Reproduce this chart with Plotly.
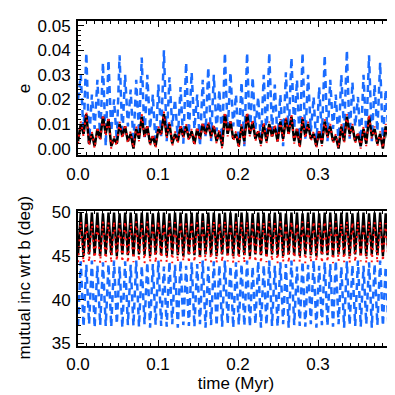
import numpy as np
import plotly.graph_objects as go
from plotly.subplots import make_subplots

# ---- data (alternating troughs / peaks of each oscillation cycle) ----
N_CYC = 57
T_END = 0.395  # Myr

# eccentricity, blue planet
e_blue_peaks = [0.030, 0.039, 0.022, 0.028, 0.035, 0.036, 0.020, 0.038, 0.030, 0.024,
                0.028, 0.037, 0.030, 0.022, 0.026, 0.040, 0.029, 0.020, 0.025, 0.035,
                0.031, 0.022, 0.028, 0.033, 0.030, 0.024, 0.039, 0.031, 0.022, 0.027,
                0.039, 0.029, 0.021, 0.030, 0.039, 0.026, 0.022, 0.031, 0.037, 0.028,
                0.039, 0.030, 0.021, 0.025, 0.038, 0.028, 0.022, 0.030, 0.040, 0.027,
                0.021, 0.030, 0.038, 0.026, 0.035, 0.024, 0.030]
e_blue_troughs = [0.020, 0.006, 0.002, 0.008, 0.004, 0.001, 0.007, 0.003, 0.005, 0.009,
                  0.002, 0.006, 0.004, 0.008, 0.001, 0.005, 0.003, 0.009, 0.004, 0.002,
                  0.006, 0.008, 0.001, 0.005, 0.003, 0.007, 0.002, 0.006, 0.009, 0.003,
                  0.001, 0.005, 0.008, 0.002, 0.004, 0.007, 0.003, 0.001, 0.006, 0.008,
                  0.002, 0.004, 0.007, 0.001, 0.005, 0.003, 0.008, 0.002, 0.006, 0.004,
                  0.009, 0.001, 0.005, 0.003, 0.007, 0.002, 0.006, 0.012]

# eccentricity, black planet
e_black_peaks = [0.010, 0.014, 0.006, 0.008, 0.013, 0.012, 0.004, 0.010, 0.009, 0.006,
                 0.008, 0.013, 0.009, 0.005, 0.008, 0.014, 0.010, 0.006, 0.009, 0.009,
                 0.007, 0.008, 0.010, 0.010, 0.009, 0.007, 0.014, 0.011, 0.006, 0.009,
                 0.014, 0.011, 0.007, 0.010, 0.010, 0.009, 0.011, 0.012, 0.013, 0.008,
                 0.012, 0.010, 0.006, 0.007, 0.011, 0.009, 0.005, 0.009, 0.013, 0.009,
                 0.006, 0.008, 0.013, 0.008, 0.006, 0.009, 0.011]
e_black_troughs = [0.003, 0.006, 0.002, 0.001, 0.004, 0.006, 0.001, 0.002, 0.005, 0.003,
                   0.000, 0.004, 0.005, 0.002, 0.001, 0.006, 0.005, 0.002, 0.003, 0.005,
                   0.004, 0.002, 0.004, 0.006, 0.005, 0.003, 0.001, 0.006, 0.004, 0.001,
                   0.003, 0.006, 0.004, 0.002, 0.003, 0.005, 0.003, 0.004, 0.006, 0.003,
                   0.001, 0.005, 0.004, 0.001, 0.002, 0.005, 0.003, 0.000, 0.003, 0.006,
                   0.003, 0.001, 0.002, 0.005, 0.002, 0.000, 0.004, 0.005]

# eccentricity, red planet
e_red_peaks = [0.011, 0.015, 0.007, 0.009, 0.014, 0.013, 0.005, 0.011, 0.010, 0.007,
               0.009, 0.014, 0.010, 0.006, 0.009, 0.015, 0.011, 0.007, 0.010, 0.010,
               0.008, 0.009, 0.011, 0.011, 0.010, 0.008, 0.015, 0.012, 0.007, 0.010,
               0.015, 0.012, 0.008, 0.011, 0.011, 0.010, 0.012, 0.013, 0.014, 0.009,
               0.013, 0.011, 0.007, 0.008, 0.012, 0.010, 0.006, 0.010, 0.014, 0.010,
               0.007, 0.009, 0.014, 0.009, 0.007, 0.010, 0.012]
e_red_troughs = [0.002, 0.005, 0.001, 0.000, 0.003, 0.005, 0.000, 0.001, 0.004, 0.002,
                 0.000, 0.003, 0.004, 0.001, 0.000, 0.005, 0.004, 0.001, 0.002, 0.004,
                 0.003, 0.001, 0.003, 0.005, 0.004, 0.002, 0.000, 0.005, 0.003, 0.000,
                 0.002, 0.005, 0.003, 0.001, 0.002, 0.004, 0.002, 0.003, 0.005, 0.002,
                 0.000, 0.004, 0.003, 0.000, 0.001, 0.004, 0.002, 0.000, 0.002, 0.005,
                 0.002, 0.000, 0.001, 0.004, 0.001, 0.000, 0.003, 0.004]

# mutual inclination wrt b (deg)
i_black_peaks = [50.0, 49.9, 50.0, 50.0, 49.9, 50.0, 50.0, 49.9, 50.0, 50.0,
                 49.9, 50.0, 50.0, 49.9, 50.0, 50.0, 49.9, 50.0, 50.0, 49.9,
                 50.0, 50.0, 49.9, 50.0, 50.0, 49.9, 50.0, 50.0, 49.9, 50.0,
                 50.0, 49.9, 50.0, 50.0, 49.9, 50.0, 50.0, 49.9, 50.0, 50.0,
                 49.9, 50.0, 50.0, 49.9, 50.0, 50.0, 49.9, 50.0, 50.0, 49.9,
                 50.0, 50.0, 49.9, 50.0, 50.0, 49.9, 50.0]
i_black_troughs = [45.1, 45.0, 45.2, 45.1, 45.0, 45.2, 45.1, 45.0, 45.2, 45.1,
                   45.0, 45.2, 45.1, 45.0, 45.2, 45.1, 45.0, 45.2, 45.1, 45.0,
                   45.2, 45.1, 45.0, 45.2, 45.1, 45.0, 45.2, 45.1, 45.0, 45.2,
                   45.1, 45.0, 45.2, 45.1, 45.0, 45.2, 45.1, 45.0, 45.2, 45.1,
                   45.0, 45.2, 45.1, 45.0, 45.2, 45.1, 45.0, 45.2, 45.1, 45.0,
                   45.2, 45.1, 45.0, 45.2, 45.1, 45.0, 45.2, 45.1]
i_red_peaks = [49.0, 48.9, 49.0, 48.8, 49.0, 48.9, 49.0, 48.8, 49.0, 48.9,
               49.0, 48.8, 49.0, 48.9, 49.0, 48.8, 49.0, 48.9, 49.0, 48.8,
               49.0, 48.9, 49.0, 48.8, 49.0, 48.9, 49.0, 48.8, 49.0, 48.9,
               49.0, 48.8, 49.0, 48.9, 49.0, 48.8, 49.0, 48.9, 49.0, 48.8,
               49.0, 48.9, 49.0, 48.8, 49.0, 48.9, 49.0, 48.8, 49.0, 48.9,
               49.0, 48.8, 49.0, 48.9, 49.0, 48.8, 49.0]
i_red_troughs = [44.3, 44.2, 44.3, 44.4, 44.2, 44.3, 44.2, 44.4, 44.3, 44.2,
                 44.3, 44.4, 44.2, 44.3, 44.2, 44.4, 44.3, 44.2, 44.3, 44.4,
                 44.2, 44.3, 44.2, 44.4, 44.3, 44.2, 44.3, 44.4, 44.2, 44.3,
                 44.2, 44.4, 44.3, 44.2, 44.3, 44.4, 44.2, 44.3, 44.2, 44.4,
                 44.3, 44.2, 44.3, 44.4, 44.2, 44.3, 44.2, 44.4, 44.3, 44.2,
                 44.3, 44.4, 44.2, 44.3, 44.2, 44.4, 44.3, 44.2]
i_blue_peaks = [44.4, 44.0, 44.5, 43.9, 44.3, 44.1, 44.5, 43.8, 44.4, 44.0,
                44.5, 43.9, 44.3, 44.1, 44.5, 43.8, 44.4, 44.0, 44.5, 43.9,
                44.3, 44.1, 44.5, 43.8, 44.4, 44.0, 44.5, 43.9, 44.3, 44.1,
                44.5, 43.8, 44.4, 44.0, 44.5, 43.9, 44.3, 44.1, 44.5, 43.8,
                44.4, 44.0, 44.5, 43.9, 44.3, 44.1, 44.5, 43.8, 44.4, 44.0,
                44.5, 43.9, 44.3, 44.1, 44.5, 43.8, 44.4]
i_blue_troughs = [37.0, 36.9, 37.2, 36.8, 37.1, 37.0, 36.9, 37.2, 36.8, 37.1,
                  37.0, 36.9, 37.2, 36.8, 37.1, 37.0, 36.9, 37.2, 36.8, 37.1,
                  37.0, 36.9, 37.2, 36.8, 37.1, 37.0, 36.9, 37.2, 36.8, 37.1,
                  37.0, 36.9, 37.2, 36.8, 37.1, 37.0, 36.9, 37.2, 36.8, 37.1,
                  37.0, 36.9, 37.2, 36.8, 37.1, 37.0, 36.9, 37.2, 36.8, 37.1,
                  37.0, 36.9, 37.2, 36.8, 37.1, 37.0, 36.9, 37.2]

x_tick_vals = [0.0, 0.1, 0.2, 0.3]
x_tick_text = ["0.0", "0.1", "0.2", "0.3"]
e_tick_vals = [0.00, 0.01, 0.02, 0.03, 0.04, 0.05]
e_tick_text = ["0.00", "0.01", "0.02", "0.03", "0.04", "0.05"]
i_tick_vals = [35, 40, 45, 50]
i_tick_text = ["35", "40", "45", "50"]


def interleave(troughs, peaks):
    out = []
    for k, p in enumerate(peaks):
        out.append(troughs[k])
        out.append(p)
    out.append(troughs[len(peaks)])
    return out


t = np.linspace(0.0, T_END, 2 * N_CYC + 1)

BLUE = "#1a6cff"
RED = "#ff1010"
FONT = "Liberation Sans, Arial, sans-serif"
FS = 17

fig = make_subplots(rows=2, cols=1, vertical_spacing=0.0)

series = [
    (1, interleave(e_blue_troughs, e_blue_peaks), BLUE, 2.5, "7px,5px"),
    (1, interleave(e_black_troughs, e_black_peaks), "black", 2.5, "solid"),
    (1, interleave(e_red_troughs, e_red_peaks), RED, 2.0, "2px,5px"),
    (2, interleave(i_blue_troughs, i_blue_peaks), BLUE, 2.5, "7px,5px"),
    (2, interleave(i_black_troughs, i_black_peaks), "black", 2.4, "solid"),
    (2, interleave(i_red_troughs, i_red_peaks), RED, 2.0, "2px,5px"),
]
for row, y, col, w, dash in series:
    fig.add_trace(go.Scatter(x=t, y=y, mode="lines",
                             line=dict(color=col, width=w, dash=dash),
                             showlegend=False, hoverinfo="skip"),
                  row=row, col=1)

axis_common = dict(showline=True, linecolor="black", linewidth=2, mirror="allticks",
                   ticks="inside", ticklen=6, tickwidth=1, tickcolor="black",
                   showgrid=False, zeroline=False,
                   tickfont=dict(family=FONT, size=FS, color="black"))

fig.update_xaxes(**axis_common, range=[0, T_END], tickmode="array",
                 tickvals=x_tick_vals, ticktext=x_tick_text, ticklabelstandoff=2,
                 minor=dict(ticks="inside", ticklen=3, dtick=0.01, tickcolor="black"))
fig.update_xaxes(title=dict(text="time (Myr)", font=dict(family=FONT, size=FS, color="black"),
                            standoff=3), row=2, col=1)

fig.update_yaxes(**axis_common, ticklabelstandoff=2)
fig.update_yaxes(range=[-0.0027, 0.0519], tickmode="array", tickvals=e_tick_vals,
                 ticktext=e_tick_text,
                 minor=dict(ticks="inside", ticklen=3, dtick=0.002, tick0=0, tickcolor="black"),
                 domain=[0.587, 1.0], row=1, col=1)
fig.update_yaxes(range=[34.7, 50.2], tickmode="array", tickvals=i_tick_vals,
                 ticktext=i_tick_text,
                 minor=dict(ticks="inside", ticklen=3, dtick=1, tick0=35, tickcolor="black"),
                 domain=[0.0, 0.416], row=2, col=1)
fig.update_xaxes(domain=[0, 1])

# plot area: x 70..386 px (width 316), y-titles centred at x = 16 px
fig.add_annotation(text="e", xref="paper", yref="paper", x=-54 / 316, y=0.79,
                   xanchor="center", yanchor="middle", textangle=-90, showarrow=False,
                   font=dict(family=FONT, size=FS, color="black"))
fig.add_annotation(text="mutual inc wrt b (deg)", xref="paper", yref="paper", x=-54 / 316,
                   y=0.208, xanchor="center", yanchor="middle", textangle=-90, showarrow=False,
                   font=dict(family=FONT, size=FS, color="black"))

fig.update_layout(width=395, height=395, margin=dict(l=70, r=9, t=6, b=57),
                  paper_bgcolor="white", plot_bgcolor="white")

fig.write_html("out.html")
